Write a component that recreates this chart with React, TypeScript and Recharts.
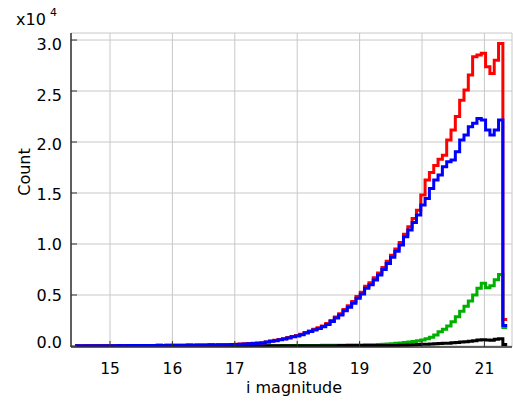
import React from "react";
import { LineChart, Line, XAxis, YAxis, CartesianGrid } from "recharts";

// Histogram bin layout (100 bins)
const binStart = 14.44;
const binWidth = 0.06925;

const redCounts = [
  15, 10, 20, 15, 20, 25, 20, 30, 25, 30, 35, 30, 40, 35, 45, 40, 50, 45, 55, 60,
  55, 65, 70, 65, 75, 80, 85, 80, 90, 95, 100, 110, 105, 115, 120, 130, 140,
  160, 190, 210, 240, 270, 290, 320, 400, 490, 560, 630, 720, 820, 940, 1030, 1150,
  1320, 1480, 1630, 1790, 1970, 2200, 2500, 2850, 3150, 3580, 3950, 4350, 4850,
  5280, 5850, 6200, 6700, 7150, 7700, 8300, 8900, 9500, 10150, 10950, 11700,
  12500, 13300, 14800, 16270, 17000, 17700, 18300, 18700, 20190, 21170, 22500,
  24100, 25090, 26560, 28360, 28530, 28700, 27380, 26730, 28030, 29670, 2600,
];

const blueCounts = [
  15, 10, 20, 15, 20, 25, 20, 30, 25, 30, 35, 30, 40, 35, 45, 40, 50, 45, 55, 60,
  55, 65, 70, 65, 75, 80, 85, 80, 90, 95, 100, 110, 105, 115, 120, 130, 140,
  150, 180, 200, 230, 250, 270, 300, 380, 470, 520, 600, 690, 780, 900, 980, 1100,
  1270, 1420, 1570, 1720, 1890, 2100, 2400, 2750, 3040, 3450, 3800, 4200, 4670,
  5100, 5650, 6000, 6470, 6960, 7500, 8100, 8700, 9300, 9900, 10700, 11370,
  12100, 12840, 13820, 14470, 15450, 16270, 16760, 17570, 18060, 18230, 19040,
  20200, 20680, 21490, 21830, 22310, 22150, 21170, 20680, 21170, 22150, 2000,
];

const greenCounts = [
  0, 0, 0, 0, 0, 0, 0, 0, 0, 0, 0, 0, 0, 0, 0, 0, 0, 0, 0, 0,
  0, 0, 0, 0, 0, 0, 0, 0, 0, 0, 0, 0, 0, 0, 0, 0, 5,
  10, 12, 15, 15, 18, 20, 20, 25, 25, 30, 30, 35, 35, 40, 40, 45,
  45, 50, 55, 55, 60, 65, 70, 70, 75, 80, 85, 90, 95,
  100, 110, 120, 130, 140, 160, 200, 230, 260, 300, 330, 380,
  450, 520, 590, 700, 850, 1080, 1400, 1650, 1950, 2380, 2870,
  3400, 3900, 4400, 5000, 5650, 6150, 5700, 5900, 6500, 7000, 1800,
];

const blackCounts = [
  0, 0, 0, 0, 0, 0, 0, 0, 0, 0, 0, 0, 0, 0, 0, 0, 0, 0, 0, 0,
  0, 0, 0, 0, 0, 0, 0, 0, 0, 0, 0, 0, 0, 0, 0, 0, 5,
  5, 8, 8, 10, 10, 12, 12, 15, 15, 15, 18, 18, 20, 20, 22, 22,
  25, 25, 25, 28, 28, 30, 30, 32, 35, 35, 38, 40, 40,
  42, 45, 45, 48, 50, 52, 55, 55, 58, 60, 80, 100,
  120, 140, 160, 180, 200, 220, 240, 260, 280, 320, 350,
  380, 420, 470, 520, 590, 600, 580, 570, 650, 720, 150,
];

const xTicks = [15, 16, 17, 18, 19, 20, 21];
const yTicks = [0, 5000, 10000, 15000, 20000, 25000, 30000];

const data = Array.from({ length: redCounts.length + 1 }, (_, i) => {
  const j = Math.min(i, redCounts.length - 1);
  return {
    x: binStart + i * binWidth,
    red: redCounts[j],
    blue: blueCounts[j],
    green: greenCounts[j],
    black: blackCounts[j],
  };
});

const FONT = "'DejaVu Sans', sans-serif";
const AXIS = "#333";

// vertical nudge of y tick labels relative to their tick (as seen in the reference)
const yLabelNudge: Record<number, number> = {
  0: -3.5,
  5000: 0,
  10000: 0,
  15000: 1,
  20000: 2,
  25000: 4,
  30000: 4,
};

const BottomTick = (props: any) => {
  const { x, y, payload } = props;
  return (
    <g>
      <line x1={x} x2={x} y1={y} y2={y - 6} stroke={AXIS} strokeWidth={1} />
      <text x={x} y={y + 26.5} textAnchor="middle" fontFamily={FONT} fontSize={15.5} fill="#000">
        {payload.value}
      </text>
    </g>
  );
};

const TopTick = (props: any) => {
  const { x, y } = props;
  return <line x1={x} x2={x} y1={y} y2={y + 6} stroke={AXIS} strokeWidth={1} />;
};

const LeftTick = (props: any) => {
  const { x, y, payload } = props;
  const nudge = yLabelNudge[payload.value] ?? 0;
  return (
    <g>
      <line x1={x} x2={x + 6} y1={y} y2={y} stroke={AXIS} strokeWidth={1} />
      <text x={x - 9} y={y + 6 + nudge} textAnchor="end" fontFamily={FONT} fontSize={16} fill="#000">
        {(payload.value / 10000).toFixed(1)}
      </text>
    </g>
  );
};

const RightTick = (props: any) => {
  const { x, y } = props;
  return <line x1={x} x2={x - 6} y1={y} y2={y} stroke={AXIS} strokeWidth={1} />;
};

export default function App() {
  const xDomain = [14.375, 21.442];
  const yDomain = [-100, 30690];
  return (
    <div style={{ position: "absolute", left: 0, top: 0, width: 513, height: 402, background: "#fff" }}>
      <LineChart
        width={513}
        height={402}
        data={data}
        margin={{ top: 33, right: 1, bottom: 0, left: 0 }}
      >
        <CartesianGrid stroke="#c8c8c8" strokeWidth={1} />
        <XAxis
          dataKey="x"
          type="number"
          domain={xDomain}
          allowDataOverflow
          ticks={xTicks}
          height={55}
          tickSize={0}
          tickMargin={0}
          tickLine={false}
          tick={<BottomTick />}
          axisLine={{ stroke: AXIS, strokeWidth: 1.5 }}
        />
        <XAxis
          xAxisId="top"
          orientation="top"
          dataKey="x"
          type="number"
          domain={xDomain}
          allowDataOverflow
          ticks={xTicks}
          height={0}
          tickSize={0}
          tickMargin={0}
          tickLine={false}
          tick={<TopTick />}
          axisLine={{ stroke: "#555", strokeWidth: 2 }}
        />
        <YAxis
          type="number"
          domain={yDomain}
          allowDataOverflow
          ticks={yTicks}
          width={71}
          tickSize={0}
          tickMargin={0}
          tickLine={false}
          tick={<LeftTick />}
          axisLine={{ stroke: AXIS, strokeWidth: 1.5 }}
        />
        <YAxis
          yAxisId="right"
          orientation="right"
          type="number"
          domain={yDomain}
          allowDataOverflow
          ticks={yTicks}
          width={0}
          tickSize={0}
          tickMargin={0}
          tickLine={false}
          tick={<RightTick />}
          axisLine={{ stroke: AXIS, strokeWidth: 1.5 }}
        />
        <Line type="stepAfter" dataKey="green" stroke="#00b000" strokeWidth={3} dot={false} isAnimationActive={false} />
        <Line type="stepAfter" dataKey="black" stroke="#000000" strokeWidth={3} dot={false} isAnimationActive={false} />
        <Line type="stepAfter" dataKey="red" stroke="#ff0000" strokeWidth={3} dot={false} isAnimationActive={false} />
        <Line type="stepAfter" dataKey="blue" stroke="#0000ff" strokeWidth={3} dot={false} isAnimationActive={false} />
      </LineChart>
      <svg
        width={513}
        height={402}
        style={{ position: "absolute", left: 0, top: 0, pointerEvents: "none" }}
      >
        <text x={16} y={25} fontFamily={FONT} fontSize={16} fill="#000">
          x10
        </text>
        <text x={50} y={16} fontFamily={FONT} fontSize={11} fill="#000">
          4
        </text>
        <text
          x={30}
          y={172}
          transform="rotate(-90 30 172)"
          textAnchor="middle"
          fontFamily={FONT}
          fontSize={16}
          fill="#000"
        >
          Count
        </text>
        <text x={294} y={392.5} textAnchor="middle" fontFamily={FONT} fontSize={16} fill="#000">
          i magnitude
        </text>
      </svg>
    </div>
  );
}
